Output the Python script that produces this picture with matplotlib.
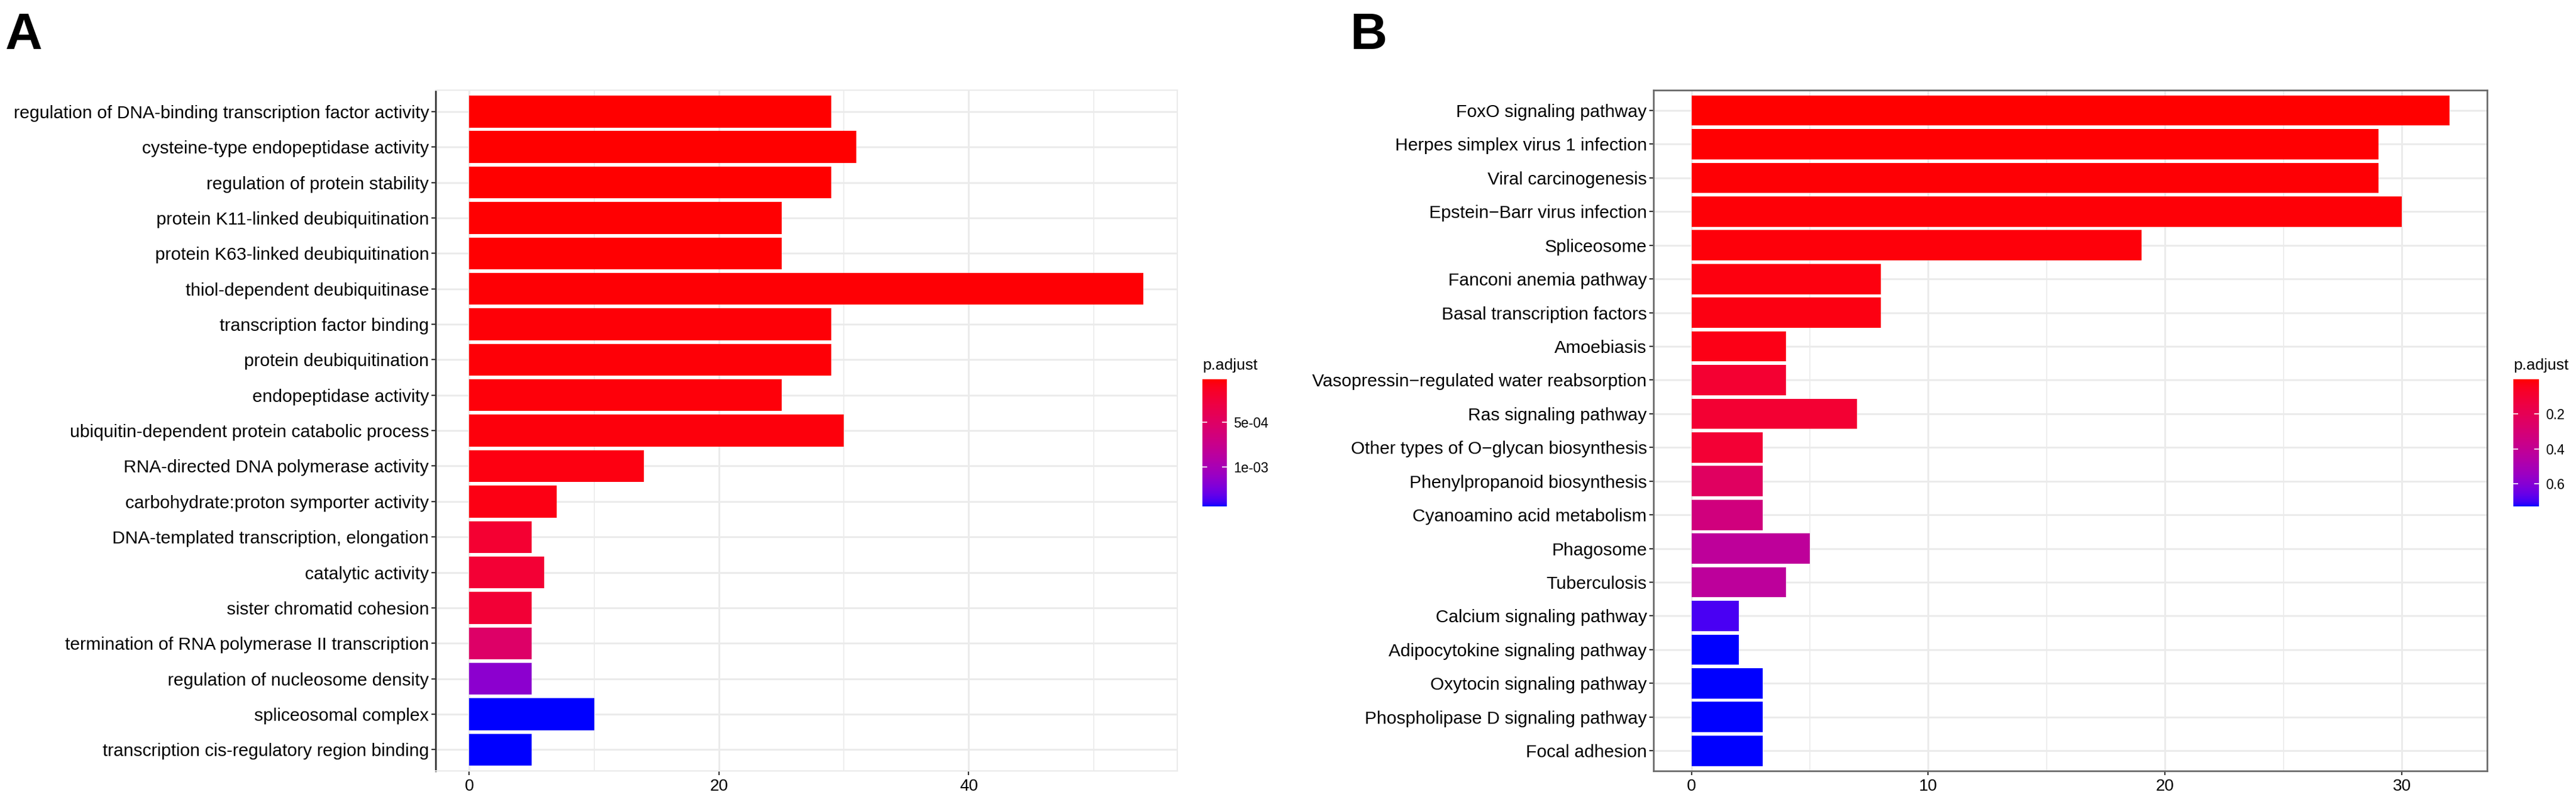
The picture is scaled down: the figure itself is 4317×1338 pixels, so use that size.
"""GO / KEGG enrichment bar charts, panels A and B."""

import matplotlib

matplotlib.use("Agg")

import matplotlib.pyplot as plt
import numpy as np
from matplotlib.colors import ListedColormap, Normalize
from matplotlib.cm import ScalarMappable

plt.rcParams["font.family"] = ["Liberation Sans", "DejaVu Sans"]

GO_TERMS = [
    "regulation of DNA-binding transcription factor activity",
    "cysteine-type endopeptidase activity",
    "regulation of protein stability",
    "protein K11-linked deubiquitination",
    "protein K63-linked deubiquitination",
    "thiol-dependent deubiquitinase",
    "transcription factor binding",
    "protein deubiquitination",
    "endopeptidase activity",
    "ubiquitin-dependent protein catabolic process",
    "RNA-directed DNA polymerase activity",
    "carbohydrate:proton symporter activity",
    "DNA-templated transcription, elongation",
    "catalytic activity",
    "sister chromatid cohesion",
    "termination of RNA polymerase II transcription",
    "regulation of nucleosome density",
    "spliceosomal complex",
    "transcription cis-regulatory region binding",
]
GO_COUNT = [29, 31, 29, 25, 25, 54, 29, 29, 25, 30, 14, 7, 5, 6, 5, 5, 5, 10, 5]
GO_PADJ = [
    2.0e-5, 2.0e-5, 2.5e-5, 3.0e-5, 3.0e-5, 3.5e-5, 4.0e-5, 4.0e-5, 4.5e-5,
    5.0e-5, 6.0e-5, 7.0e-5, 2.05e-4, 2.2e-4, 2.3e-4, 5.2e-4, 1.16e-3,
    1.44e-3, 1.44e-3,
]
GO_CBAR_TICKS = [5e-4, 1e-3]
GO_CBAR_LABELS = ["5e-04", "1e-03"]

KEGG_TERMS = [
    "FoxO signaling pathway",
    "Herpes simplex virus 1 infection",
    "Viral carcinogenesis",
    "Epstein\u2212Barr virus infection",
    "Spliceosome",
    "Fanconi anemia pathway",
    "Basal transcription factors",
    "Amoebiasis",
    "Vasopressin\u2212regulated water reabsorption",
    "Ras signaling pathway",
    "Other types of O\u2212glycan biosynthesis",
    "Phenylpropanoid biosynthesis",
    "Cyanoamino acid metabolism",
    "Phagosome",
    "Tuberculosis",
    "Calcium signaling pathway",
    "Adipocytokine signaling pathway",
    "Oxytocin signaling pathway",
    "Phospholipase D signaling pathway",
    "Focal adhesion",
]
KEGG_COUNT = [32, 29, 29, 30, 19, 8, 8, 4, 4, 7, 3, 3, 3, 5, 4, 2, 2, 3, 3, 3]
KEGG_PADJ = [
    0.001, 0.005, 0.008, 0.010, 0.015, 0.020, 0.025, 0.030, 0.097, 0.100,
    0.104, 0.235, 0.330, 0.420, 0.425, 0.694, 0.730, 0.730, 0.730, 0.730,
]
KEGG_CBAR_TICKS = [0.2, 0.4, 0.6]
KEGG_CBAR_LABELS = ["0.2", "0.4", "0.6"]

GRID = "#EBEBEB"


def _srgb_to_lab(rgb):
    rgb = np.asarray(rgb, dtype=float)
    lin = np.where(rgb <= 0.04045, rgb / 12.92, ((rgb + 0.055) / 1.055) ** 2.4)
    m = np.array([[0.4124, 0.3576, 0.1805],
                  [0.2126, 0.7152, 0.0722],
                  [0.0193, 0.1192, 0.9505]])
    xyz = m @ lin / np.array([0.95047, 1.0, 1.08883])
    f = np.where(xyz > 0.008856, np.cbrt(xyz), 7.787 * xyz + 16 / 116)
    return np.array([116 * f[1] - 16, 500 * (f[0] - f[1]), 200 * (f[1] - f[2])])


def _lab_to_srgb(lab):
    fy = (lab[0] + 16) / 116
    fx = fy + lab[1] / 500
    fz = fy - lab[2] / 200
    f = np.array([fx, fy, fz])
    xyz = np.where(f ** 3 > 0.008856, f ** 3, (f - 16 / 116) / 7.787)
    xyz = xyz * np.array([0.95047, 1.0, 1.08883])
    m = np.array([[3.2406, -1.5372, -0.4986],
                  [-0.9689, 1.8758, 0.0415],
                  [0.0557, -0.2040, 1.0570]])
    lin = np.clip(m @ xyz, 0, 1)
    rgb = np.where(lin <= 0.0031308, 12.92 * lin, 1.055 * lin ** (1 / 2.4) - 0.055)
    return np.clip(rgb, 0, 1)


def red_blue_lab_cmap():
    lo = _srgb_to_lab([1.0, 0.0, 0.0])
    hi = _srgb_to_lab([0.0, 0.0, 1.0])
    colors = [_lab_to_srgb(lo + (hi - lo) * t) for t in np.linspace(0, 1, 256)]
    return ListedColormap(colors)


CMAP = red_blue_lab_cmap()


def draw_panel(fig, rect, cbar_rect, terms, counts, padj, major, minor,
               cbar_ticks, cbar_labels, boxed):
    ax = fig.add_axes(rect)
    norm = Normalize(vmin=min(padj), vmax=max(padj))
    y = np.arange(len(terms))
    ax.barh(y, counts, height=0.9, color=CMAP(norm(np.array(padj))),
            edgecolor="none", zorder=3)

    top = max(counts)
    ax.set_xlim(-0.05 * top, 1.05 * top)
    ax.set_ylim(len(terms) - 0.4, -0.6)
    ax.set_yticks(y)
    ax.set_yticklabels(terms, fontsize=21.5, color="black")
    ax.set_xticks(major)
    ax.set_xticks(minor, minor=True)
    ax.tick_params(axis="x", which="major", labelsize=20, length=5, width=1.6,
                   pad=4, colors="#333333", labelcolor="black")
    ax.tick_params(axis="x", which="minor", length=0)
    ax.tick_params(axis="y", length=5, width=1.6, pad=3, colors="#333333",
                   labelcolor="black")

    ax.grid(True, which="major", color=GRID, linewidth=2.2, zorder=0)
    ax.grid(True, which="minor", axis="x", color=GRID, linewidth=1.2, zorder=0)
    ax.set_axisbelow(True)

    for side, spine in ax.spines.items():
        spine.set_zorder(4)
        if boxed:
            spine.set_color("#6a6a6a")
            spine.set_linewidth(2.0)
        elif side == "left":
            spine.set_color("#333333")
            spine.set_linewidth(2.0)
        else:
            spine.set_color(GRID)
            spine.set_linewidth(1.6)

    cax = fig.add_axes(cbar_rect)
    sm = ScalarMappable(norm=norm, cmap=CMAP)
    cbar = fig.colorbar(sm, cax=cax)
    cbar.outline.set_visible(False)
    cax.invert_yaxis()
    cbar.set_ticks(cbar_ticks)
    cbar.set_ticklabels(cbar_labels)
    cax.yaxis.set_ticks_position("both")
    cax.tick_params(direction="in", color="white", length=6, width=1.2,
                    labelsize=16.5, pad=8, labelright=True, labelleft=False)
    fig.text(cbar_rect[0], cbar_rect[1] + cbar_rect[3] + 0.008, "p.adjust",
             fontsize=19, ha="left", va="bottom")
    return ax


def main():
    fig = plt.figure(figsize=(43.17, 13.38), dpi=100)

    draw_panel(fig, [0.1691, 0.0351, 0.2879, 0.8519],
               [0.4668, 0.3662, 0.0094, 0.1592],
               GO_TERMS, GO_COUNT, GO_PADJ, [0, 20, 40], [10, 30, 50],
               GO_CBAR_TICKS, GO_CBAR_LABELS, boxed=False)
    draw_panel(fig, [0.6419, 0.0351, 0.3236, 0.8519],
               [0.9757, 0.3662, 0.0099, 0.1592],
               KEGG_TERMS, KEGG_COUNT, KEGG_PADJ, [0, 10, 20, 30], [5, 15, 25],
               KEGG_CBAR_TICKS, KEGG_CBAR_LABELS, boxed=True)

    fig.text(0.002, 0.985, "A", fontsize=62, fontweight="bold", ha="left", va="top")
    fig.text(0.524, 0.985, "B", fontsize=62, fontweight="bold", ha="left", va="top")

    fig.savefig("out.png", dpi=100)
    plt.close(fig)


if __name__ == "__main__":
    main()
